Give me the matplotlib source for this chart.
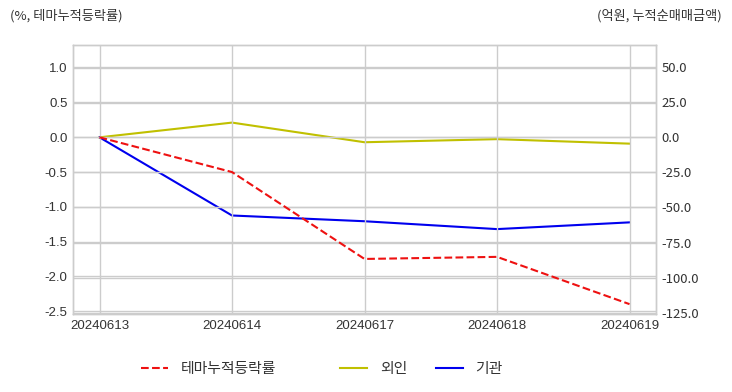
import matplotlib
matplotlib.use("Agg")
import matplotlib.pyplot as plt

plt.rcParams['font.family'] = ['Noto Sans CJK KR', 'DejaVu Sans']
plt.rcParams['axes.unicode_minus'] = False

dates = ['20240613', '20240614', '20240617', '20240618', '20240619']
theme_rate = [0.0, -0.50, -1.75, -1.72, -2.40]
foreign = [0.0, 10.5, -3.5, -1.3, -4.5]
institution = [0.0, -55.7, -59.8, -65.4, -60.6]

left_ticks = [1.0, 0.5, 0.0, -0.5, -1.0, -1.5, -2.0, -2.5]
right_ticks = [50.0, 25.0, 0.0, -25.0, -50.0, -75.0, -100.0, -125.0]

grid_c = '#cccccc'
txt_c = '#333333'

fig = plt.figure(figsize=(7.32, 3.92), dpi=100)
ax = fig.add_axes([73/732, 1-314/392, (656-73)/732, (314-45)/392])
ax2 = ax.twinx()

x = list(range(len(dates)))
l1, = ax.plot(x, theme_rate, color='#ee1111', linestyle='--', linewidth=1.5, label='테마누적등락률')
l2, = ax2.plot(x, foreign, color='#c0c000', linewidth=1.5, label='외인')
l3, = ax2.plot(x, institution, color='#0000ee', linewidth=1.5, label='기관')

ax.set_xlim(-0.2, 4.2)
ax.set_ylim(-2.542, 1.328)
ax2.set_ylim(-125.9, 65.8)

ax.set_xticks(x)
ax.set_xticklabels(dates, fontfamily='Liberation Sans')
ax.set_yticks(left_ticks)
ax.set_yticklabels([f'{v:.1f}' for v in left_ticks], fontfamily='Liberation Sans')
ax2.set_yticks(right_ticks)
ax2.set_yticklabels([f'{v:.1f}' for v in right_ticks])

for a in (ax, ax2):
    a.grid(True, color=grid_c, linewidth=1.0)
    a.set_axisbelow(True)
    for s in a.spines.values():
        s.set_color(grid_c)
        s.set_linewidth(1.0)
    a.tick_params(length=0, labelsize=9.5, colors=txt_c, pad=4)
ax2.grid(axis='x', visible=False)
ax2.yaxis.grid(True, color=grid_c, linewidth=1.0)
ax2.set_zorder(1)
ax.set_zorder(2)
ax.patch.set_visible(False)
ax2.patch.set_facecolor('white')

fig.text(10/732, 1-16/392, '(%, 테마누적등락률)', fontsize=9.5, color=txt_c, ha='left', va='center')
fig.text(722/732, 1-16/392, '(억원, 누적순매매금액)', fontsize=9.5, color=txt_c, ha='right', va='center')

leg1 = fig.legend(handles=[l1], loc='center left', bbox_to_anchor=(128/732, 1-369/392),
                  frameon=False, fontsize=10.7, handlelength=1.8, handletextpad=0.85)
for t in leg1.get_texts():
    t.set_color(txt_c)
leg2 = fig.legend(handles=[l2, l3], loc='center left', bbox_to_anchor=(327/732, 1-369/392),
                  frameon=False, fontsize=10.7, ncol=2, handlelength=1.8, handletextpad=0.85,
                  columnspacing=1.95)
for t in leg2.get_texts():
    t.set_color(txt_c)

fig.savefig('out.png', dpi=100, facecolor='white')
